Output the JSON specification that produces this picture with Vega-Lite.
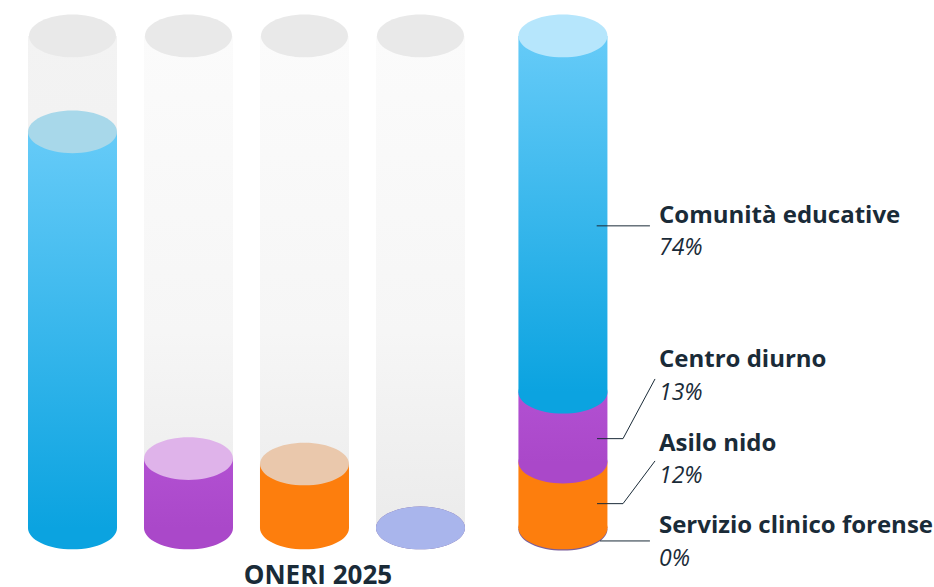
{"$schema":"https://vega.github.io/schema/vega-lite/v6.json","width":934,"height":587,"autosize":{"type":"none"},"padding":0,"background":"#ffffff","view":{"stroke":null},
"datasets":{
"tracks":[{"slot":0,"base":0,"top":100,"kind":"a"},{"slot":1,"base":0,"top":100,"kind":"b"},{"slot":2,"base":0,"top":100,"kind":"b"},{"slot":3,"base":0,"top":100,"kind":"b"}],
"fills":[
{"slot":2,"series":"Asilo nido","base":0,"level":13,"stack":false},
{"slot":4.228,"series":"Asilo nido","base":0,"level":13.4,"stack":true},
{"slot":1,"series":"Centro diurno","base":0,"level":14.1,"stack":false},
{"slot":4.228,"series":"Centro diurno","base":13.4,"level":27.6,"stack":true},
{"slot":0,"series":"Comunità educative","base":0,"level":80.5,"stack":false},
{"slot":4.228,"series":"Comunità educative","base":27.6,"level":100,"stack":true},
{"slot":3,"series":"Servizio clinico forense","base":0,"level":0,"stack":false},
{"slot":4.228,"series":"Servizio clinico forense","base":-0.25,"level":-0.25,"stack":true}],
"leaders":[
{"id":"a","ord":1,"slot":4.519,"v":61.4},{"id":"a","ord":2,"slot":4.978,"v":61.4},
{"id":"b","ord":1,"slot":4.522,"v":18.15},{"id":"b","ord":2,"slot":4.746,"v":18.15},{"id":"b","ord":3,"slot":5.022,"v":30.28},
{"id":"c","ord":1,"slot":4.522,"v":4.94},{"id":"c","ord":2,"slot":4.746,"v":4.94},{"id":"c","ord":3,"slot":5.022,"v":13.62},
{"id":"d","ord":1,"slot":4.547,"v":-2.64},{"id":"d","ord":2,"slot":4.978,"v":-2.64}],
"names":[{"slot":5.056,"v":61.99,"t":"Comunità educative"},{"slot":5.056,"v":32.72,"t":"Centro diurno"},{"slot":5.056,"v":15.65,"t":"Asilo nido"},{"slot":5.056,"v":-1.02,"t":"Servizio clinico forense"}],
"shares":[{"slot":5.056,"v":55.49,"t":"74%"},{"slot":5.056,"v":26.02,"t":"13%"},{"slot":5.056,"v":9.15,"t":"12%"},{"slot":5.056,"v":-7.72,"t":"0%"}],
"title":[{"slot":2.116,"v":-11.3,"t":"ONERI 2025"}]},
"encoding":{"x":{"field":"slot","type":"quantitative","scale":{"domain":[-0.625,7.427],"nice":false,"zero":false,"padding":0},"axis":null}},
"layer":[
{"data":{"name":"tracks"},"transform":[{"filter":"datum.kind==='a'"}],"mark":{"type":"bar","orient":"vertical","size":89,"color":{"gradient":"linear","x1":0,"y1":0,"x2":0,"y2":1,"stops":[{"offset":0,"color":"#f3f3f3"},{"offset":1,"color":"#ededed"}]}},"encoding":{"y":{"field":"base","type":"quantitative","scale":{"domain":[-12,107.3],"nice":false,"zero":false,"padding":0},"axis":null},"y2":{"field":"top"}}},
{"data":{"name":"tracks"},"transform":[{"filter":"datum.kind==='b'"}],"mark":{"type":"bar","orient":"vertical","size":89,"color":{"gradient":"linear","x1":0,"y1":0,"x2":0,"y2":1,"stops":[{"offset":0,"color":"#fbfbfb"},{"offset":0.6,"color":"#f6f6f6"},{"offset":1,"color":"#ebebeb"}]}},"encoding":{"y":{"field":"base","type":"quantitative","axis":null},"y2":{"field":"top"}}},
{"data":{"name":"tracks"},"mark":{"type":"point","filled":true,"opacity":1,"strokeWidth":0,"size":7569,"color":"#e9e9e9","shape":"M-1,0A1,0.49 0 1,0 1,0A1,0.49 0 1,0 -1,0Z"},"encoding":{"y":{"field":"top","type":"quantitative","axis":null}}},

{"data":{"name":"fills"},"transform":[{"filter":"datum.series==='Servizio clinico forense'"}],"mark":{"type":"point","filled":true,"opacity":1,"strokeWidth":0,"size":7921,"color":"#7a5f9c","shape":"M-1,0A1,0.48 0 1,0 1,0A1,0.48 0 1,0 -1,0Z"},"encoding":{"y":{"field":"base","type":"quantitative","axis":null}}},

{"data":{"name":"fills"},"transform":[{"filter":"datum.series==='Asilo nido'"}],"mark":{"type":"point","filled":true,"opacity":1,"strokeWidth":0,"size":7921,"color":"#fd7e0d","shape":"M-1,0A1,0.48 0 1,0 1,0A1,0.48 0 1,0 -1,0Z"},"encoding":{"y":{"field":"base","type":"quantitative","axis":null}}},
{"data":{"name":"fills"},"transform":[{"filter":"datum.series==='Asilo nido'"}],"mark":{"type":"bar","orient":"vertical","size":89,"color":"#fd7e0d"},"encoding":{"y":{"field":"base","type":"quantitative","axis":null},"y2":{"field":"level"}}},

{"data":{"name":"fills"},"transform":[{"filter":"datum.series==='Centro diurno'"}],"mark":{"type":"point","filled":true,"opacity":1,"strokeWidth":0,"size":7921,"color":"#aa48c9","shape":"M-1,0A1,0.48 0 1,0 1,0A1,0.48 0 1,0 -1,0Z"},"encoding":{"y":{"field":"base","type":"quantitative","axis":null}}},
{"data":{"name":"fills"},"transform":[{"filter":"datum.series==='Centro diurno'"}],"mark":{"type":"bar","orient":"vertical","size":89,"color":{"gradient":"linear","x1":0,"y1":0,"x2":0,"y2":1,"stops":[{"offset":0,"color":"#b250d2"},{"offset":1,"color":"#aa48c9"}]}},"encoding":{"y":{"field":"base","type":"quantitative","axis":null},"y2":{"field":"level"}}},

{"data":{"name":"fills"},"transform":[{"filter":"datum.series==='Comunità educative'"}],"mark":{"type":"point","filled":true,"opacity":1,"strokeWidth":0,"size":7921,"color":"#0ba3e0","shape":"M-1,0A1,0.48 0 1,0 1,0A1,0.48 0 1,0 -1,0Z"},"encoding":{"y":{"field":"base","type":"quantitative","axis":null}}},
{"data":{"name":"fills"},"transform":[{"filter":"datum.series==='Comunità educative'"}],"mark":{"type":"bar","orient":"vertical","size":89,"color":{"gradient":"linear","x1":0,"y1":0,"x2":0,"y2":1,"stops":[{"offset":0,"color":"#66cbf8"},{"offset":1,"color":"#0ba3e0"}]}},"encoding":{"y":{"field":"base","type":"quantitative","axis":null},"y2":{"field":"level"}}},

{"data":{"name":"fills"},"transform":[{"filter":"!datum.stack || datum.series==='Comunità educative'"}],"mark":{"type":"point","filled":true,"opacity":1,"strokeWidth":0,"size":7921,"shape":"M-1,0A1,0.48 0 1,0 1,0A1,0.48 0 1,0 -1,0Z"},"encoding":{"y":{"field":"level","type":"quantitative","axis":null},"color":{"condition":{"test":"datum.stack","value":"#b6e6fc"},"field":"series","type":"nominal","legend":null,"scale":{"domain":["Comunità educative","Centro diurno","Asilo nido","Servizio clinico forense"],"range":["#a8d8ea","#dfb3ea","#eac8ac","#a9b5ec"]}}}},

{"data":{"name":"leaders"},"mark":{"type":"line","color":"#1a2b38","strokeWidth":1},"encoding":{"y":{"field":"v","type":"quantitative","axis":null},"detail":{"field":"id"},"order":{"field":"ord"}}},
{"data":{"name":"names"},"mark":{"type":"text","align":"left","baseline":"alphabetic","font":"Open Sans","fontWeight":"bold","fontSize":24,"color":"#1a2b38"},"encoding":{"y":{"field":"v","type":"quantitative","axis":null},"text":{"field":"t"}}},
{"data":{"name":"shares"},"mark":{"type":"text","align":"left","baseline":"alphabetic","font":"Open Sans","fontStyle":"italic","fontSize":23,"color":"#1a2b38"},"encoding":{"y":{"field":"v","type":"quantitative","axis":null},"text":{"field":"t"}}},
{"data":{"name":"title"},"mark":{"type":"text","align":"center","baseline":"alphabetic","font":"Open Sans","fontWeight":"bold","fontSize":26,"color":"#1a2b38"},"encoding":{"y":{"field":"v","type":"quantitative","axis":null},"text":{"field":"t"}}}
]}
